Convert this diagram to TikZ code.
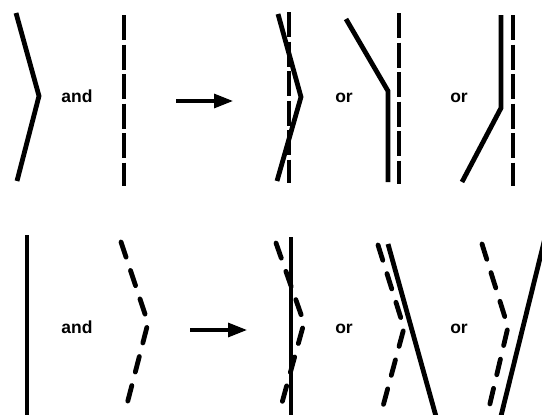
\documentclass[tikz,border=0pt]{standalone}
\usepackage{fontspec}
\setmainfont{Liberation Sans}
\usetikzlibrary{arrows.meta}
\begin{document}
\begin{tikzpicture}[x=1pt,y=-1pt,
  solidln/.style={line width=4.8pt},
  vdash/.style={line width=4.8pt, dash pattern=on 25pt off 4.5pt},
  cdash/.style={line width=4.8pt, line cap=round, dash pattern=on 16pt off 14pt},
  word/.style={font=\bfseries\fontsize{17.5}{17.5}\selectfont, anchor=base, inner sep=0pt},
  arr/.style={line width=3.2pt, -{Triangle[length=19pt,width=14pt]}}]
\useasboundingbox (0,0) rectangle (542,415);
\clip (0,0) rectangle (542,415);
% ---------- top row ----------
\draw[solidln] (16,13) -- (39,96) -- (17,181);
\node[word] (and1) at (77,102) {and};
\draw[vdash] (124,15) -- (124,186);
\coordinate (a1s) at (176,101);
\coordinate (a1e) at (233,101);
\draw[arr] (a1s) -- (a1e);
% result 1
\draw[vdash] (289,12) -- (289,183);
\draw[solidln] (278,14) -- (301,97) -- (277,181);
\node[word] (or1) at (344,102) {or};
% result 2
\draw[solidln] (346,19) -- (388,91) -- (388,182);
\draw[vdash] (399,13) -- (399,184);
\node[word] (or2) at (459,102) {or};
% result 3
\draw[solidln] (462,182) -- (501,108) -- (501,15);
\draw[vdash] (513,15) -- (513,186);
% ---------- bottom row ----------
\draw[solidln] (27,235) -- (27,420);
\node[word] (and2) at (77,333) {and};
\draw[cdash] (121,242) -- (148,323) -- (126,408);
\coordinate (a2s) at (190,330);
\coordinate (a2e) at (247,330);
\draw[arr] (a2s) -- (a2e);
% result 1
\draw[solidln] (291,237) -- (291,420);
\draw[cdash] (276,243) -- (304,323) -- (280,410);
\node[word] (or3) at (344,333) {or};
% result 2
\draw[solidln] (388,244) -- (437,420);
\draw[cdash] (378,245) -- (404,328) -- (382,410);
\node[word] (or4) at (459,333) {or};
% result 3
\draw[cdash] (482,244) -- (508,327) -- (488,412);
\draw[solidln] (500,420) -- (547,230);
\end{tikzpicture}
\end{document}
